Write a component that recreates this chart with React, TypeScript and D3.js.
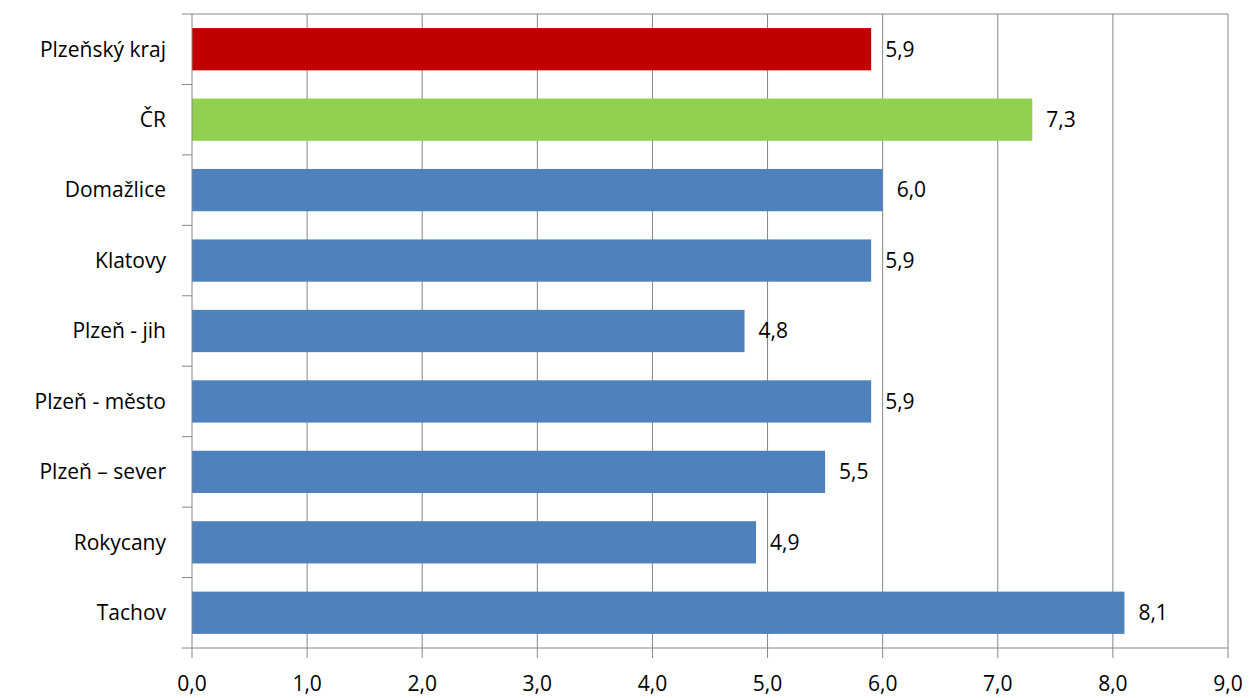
import React, { useRef, useEffect } from "react";
import * as d3 from "d3";

const width = 1250;
const height = 698;

const categories = ["Plzeňský kraj", "ČR", "Domažlice", "Klatovy", "Plzeň - jih", "Plzeň - město", "Plzeň – sever", "Rokycany", "Tachov"];
const values = [5.9, 7.3, 6.0, 5.9, 4.8, 5.9, 5.5, 4.9, 8.1];
const colors = ["#c00000", "#92d050", "#4f81bd", "#4f81bd", "#4f81bd", "#4f81bd", "#4f81bd", "#4f81bd", "#4f81bd"];
const ticks = [0, 1, 2, 3, 4, 5, 6, 7, 8, 9];

const fmt = (v: number) => v.toFixed(1).replace(".", ",");

export default function App() {
  const ref = useRef<SVGSVGElement | null>(null);

  useEffect(() => {
    const svg = d3.select(ref.current);
    svg.selectAll("*").remove();
    const left = 192, right = 1228, top = 14, bottom = 648;
    const font = "'Open Sans', sans-serif";

    const x = d3.scaleLinear().domain([0, 9]).range([left, right]);
    const y = d3.scaleBand().domain(categories).range([top, bottom]).paddingInner(0.4).paddingOuter(0.2);

    // gridlines
    svg.selectAll("line.grid").data(ticks.slice(1)).enter().append("line")
      .attr("x1", (d) => x(d)).attr("x2", (d) => x(d))
      .attr("y1", top).attr("y2", bottom)
      .attr("stroke", "#868686").attr("stroke-width", 1);
    svg.append("line").attr("x1", left).attr("x2", right).attr("y1", top).attr("y2", top)
      .attr("stroke", "#868686");

    svg.selectAll("rect").data(values).enter().append("rect")
      .attr("x", x(0))
      .attr("y", (d, i) => y(categories[i])!)
      .attr("width", (d) => x(d) - x(0))
      .attr("height", y.bandwidth())
      .attr("fill", (d, i) => colors[i]);

    svg.selectAll("text.val").data(values).enter().append("text")
      .attr("x", (d) => x(d) + 14)
      .attr("y", (d, i) => y(categories[i])! + y.bandwidth() / 2)
      .attr("dy", "0.35em")
      .attr("font-family", font).attr("font-size", 21).attr("fill", "#000")
      .text((d) => fmt(d));

    // y axis
    svg.append("line").attr("x1", left).attr("x2", left).attr("y1", top).attr("y2", bottom).attr("stroke", "#868686");
    d3.range(categories.length + 1).forEach((i) => {
      const yy = top + i * (bottom - top) / categories.length;
      svg.append("line").attr("x1", left - 10).attr("x2", left)
        .attr("y1", yy).attr("y2", yy).attr("stroke", "#868686");
    });
    svg.selectAll("text.cat").data(categories).enter().append("text")
      .attr("x", left - 26)
      .attr("y", (d) => y(d)! + y.bandwidth() / 2)
      .attr("dy", "0.35em").attr("text-anchor", "end")
      .attr("font-family", font).attr("font-size", 21).attr("fill", "#000")
      .text((d) => d);

    // x axis
    svg.append("line").attr("x1", left).attr("x2", right).attr("y1", bottom).attr("y2", bottom).attr("stroke", "#868686");
    svg.selectAll("line.xt").data(ticks).enter().append("line")
      .attr("x1", (d) => x(d)).attr("x2", (d) => x(d))
      .attr("y1", bottom).attr("y2", bottom + 10).attr("stroke", "#868686");
    svg.selectAll("text.xt").data(ticks).enter().append("text")
      .attr("x", (d) => x(d)).attr("y", 684).attr("dy", "0.35em")
      .attr("text-anchor", "middle")
      .attr("font-family", font).attr("font-size", 21).attr("fill", "#000")
      .text((d) => fmt(d));
  }, []);

  return <svg ref={ref} width={width} height={height} style={{ position: "absolute", left: 0, top: 0, background: "#fff" }} />;
}
